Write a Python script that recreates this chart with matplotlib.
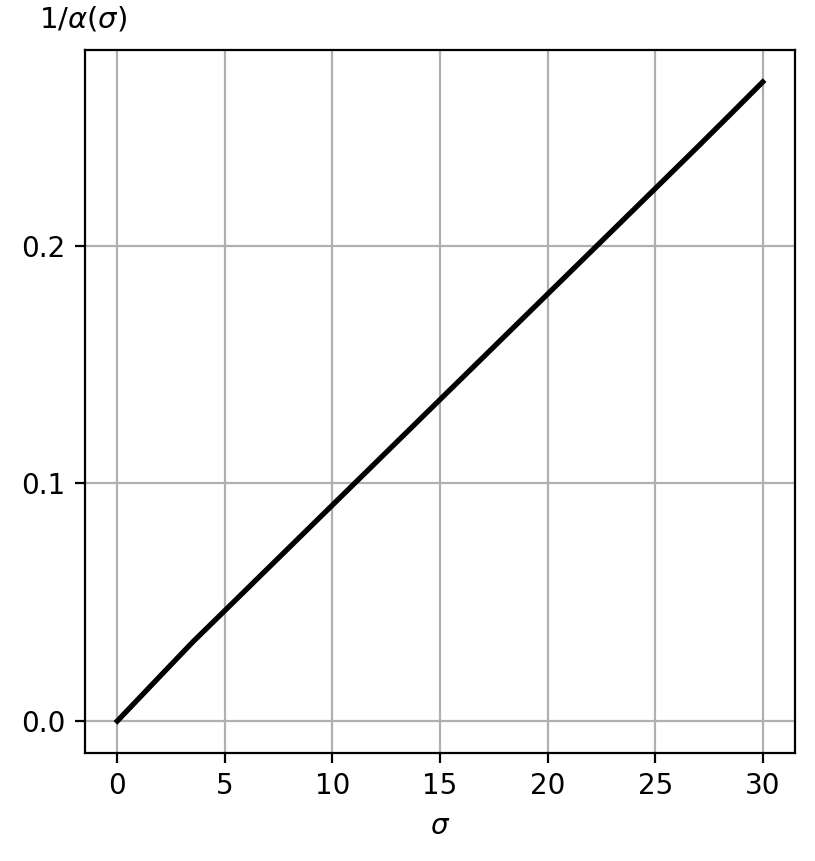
import numpy as np
import matplotlib.pyplot as plt

# values
sigma = [0, 1, 2, 3.5, 5, 10, 15, 20, 25, 27, 28.5, 30]
inv_alpha = [0, 0.0095, 0.019, 0.0332, 0.0465, 0.0909, 0.1353, 0.1797, 0.2241, 0.2419, 0.2554, 0.269]

fig = plt.figure(figsize=(815 / 200, 861 / 200), dpi=200)
ax = fig.add_axes([85 / 815, 1 - 753 / 861, 710 / 815, 703 / 861])

ax.plot(sigma, inv_alpha, color='k', lw=1.9)
ax.grid(True)
ax.set_xticks([0, 5, 10, 15, 20, 25, 30])
ax.set_yticks([0.0, 0.1, 0.2])
ax.set_xlabel(r'$\sigma$')
ax.text(-0.003, 1.024, r'$1/\alpha(\sigma)$', transform=ax.transAxes,
        ha='center', va='bottom', fontsize=10.5)

fig.savefig('out.png', dpi=200)
